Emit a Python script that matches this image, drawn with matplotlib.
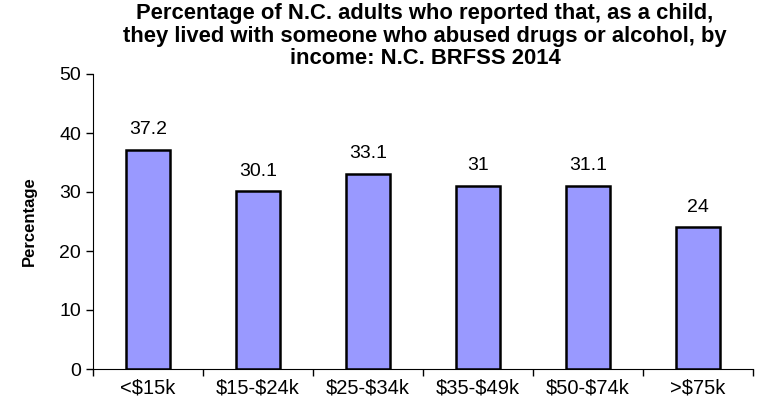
import matplotlib
matplotlib.use('Agg')
from matplotlib import pyplot as plt
import numpy as np

plt.rcParams['font.family'] = ['Liberation Sans', 'DejaVu Sans']

categories = ['<\\$15k', '\\$15-\\$24k', '\\$25-\\$34k', '\\$35-\\$49k', '\\$50-\\$74k', '>\\$75k']
values = [37.2, 30.1, 33.1, 31, 31.1, 24]
labels = ['37.2', '30.1', '33.1', '31', '31.1', '24']
title = ('Percentage of N.C. adults who reported that, as a child,\n'
         'they lived with someone who abused drugs or alcohol, by\n'
         'income: N.C. BRFSS 2014')

fig = plt.figure(figsize=(7.6, 4.08), dpi=100)
ax = fig.add_axes([93/760, 1 - 369/408, 660/760, 295/408])

x = np.arange(len(categories))
ax.bar(x, values, width=0.4, color='#9999FF', edgecolor='black', linewidth=1.8)

for xi, v, lab in zip(x, values, labels):
    ax.text(xi, v + 2.0, lab, ha='center', va='bottom', fontsize=14)

ax.set_xlim(-0.5, len(categories) - 0.5)
ax.set_ylim(0, 50)
ax.set_yticks([0, 10, 20, 30, 40, 50])
ax.tick_params(axis='y', labelsize=14, direction='out', length=5, width=1)

ax.set_xticks(np.arange(len(categories) + 1) - 0.5)
ax.set_xticklabels([])
ax.set_xticks(x, minor=True)
ax.set_xticklabels(categories, minor=True, fontsize=14.5)
ax.tick_params(axis='x', which='major', direction='out', length=5, width=1)
ax.tick_params(axis='x', which='minor', length=0, pad=7)

ax.spines['top'].set_visible(False)
ax.spines['right'].set_visible(False)

ax.set_ylabel('Percentage', fontsize=12, fontweight='bold', labelpad=16)
fig.text(425/760, 1 - 3/408, title, ha='center', va='top', fontsize=15.8,
         fontweight='bold', linespacing=1.1)

plt.savefig('out.png', dpi=100)
